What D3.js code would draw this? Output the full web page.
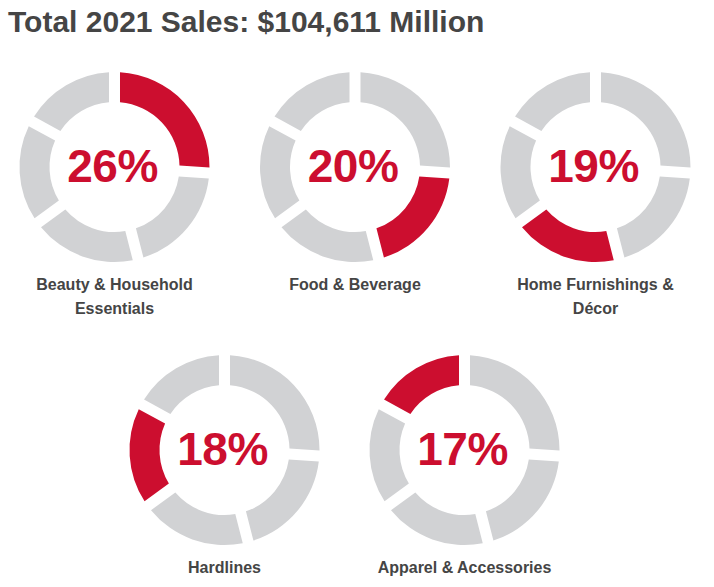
<!DOCTYPE html>
<html lang="en">
  <head>
    <meta charset="UTF-8" />
    <title>Total 2021 Sales</title>
    <script src="https://d3js.org/d3.v7.min.js"></script>
    <style>
      body {
        margin: 0;
        background: #fff;
        font-family: "Liberation Sans", Arial, sans-serif;
      }
      svg {
        display: block;
      }
    </style>
  </head>
  <body>
    <svg id="chart"></svg>
    <script>
      const title = "Total 2021 Sales: $104,611 Million";
      const categories = [
        "Beauty & Household Essentials",
        "Food & Beverage",
        "Home Furnishings & Décor",
        "Hardlines",
        "Apparel & Accessories",
      ];
      // label lines as they wrap in the picture
      const labelLines = [
        ["Beauty & Household", "Essentials"],
        ["Food & Beverage"],
        ["Home Furnishings &", "Décor"],
        ["Hardlines"],
        ["Apparel & Accessories"],
      ];
      const shares = [26, 20, 19, 18, 17];

      const width = 714;
      const height = 587;
      const red = "#cc0e2f";
      const grey = "#d1d2d4";
      const textGrey = "#454545";

      const outerR = 95;
      const innerR = 65;
      const gap = 11;

      const svg = d3
        .select("#chart")
        .attr("width", width)
        .attr("height", height);

      svg
        .append("text")
        .attr("x", 8)
        .attr("y", 32)
        .attr("font-size", 30)
        .attr("font-weight", "bold")
        .attr("fill", textGrey)
        .text(title);

      // first row holds three donuts, second row two
      const row1 = d3.scalePoint().domain([0, 1, 2]).range([114.5, 595.5]);
      const row2 = d3.scalePoint().domain([3, 4]).range([224.5, 464.5]);
      const rowY = [167, 450];

      const pie = d3
        .pie()
        .sort(null)
        .value((d) => d);
      const slices = pie(shares);

      const padR = Math.sqrt(innerR * innerR + outerR * outerR);
      const arc = d3
        .arc()
        .innerRadius(innerR)
        .outerRadius(outerR)
        .padRadius(padR)
        .padAngle(gap / padR);

      categories.forEach((cat, i) => {
        const cx = i < 3 ? row1(i) : row2(i);
        const cy = i < 3 ? rowY[0] : rowY[1];
        const g = svg
          .append("g")
          .attr("transform", `translate(${cx},${cy})`);

        g.selectAll("path")
          .data(slices)
          .enter()
          .append("path")
          .attr("d", arc)
          .attr("fill", (d) => (d.index === i ? red : grey));

        g.append("text")
          .attr("text-anchor", "middle")
          .attr("x", -2)
          .attr("y", 15)
          .attr("font-size", 46)
          .attr("font-weight", "bold")
          .attr("letter-spacing", -0.5)
          .attr("fill", red)
          .text(shares[i] + "%");

        const label = g
          .append("text")
          .attr("text-anchor", "middle")
          .attr("font-size", 16)
          .attr("font-weight", "bold")
          .attr("fill", textGrey);
        labelLines[i].forEach((line, j) => {
          label
            .append("tspan")
            .attr("x", 0)
            .attr("y", 123 + j * 23.5)
            .text(line);
        });
      });
    </script>
  </body>
</html>
